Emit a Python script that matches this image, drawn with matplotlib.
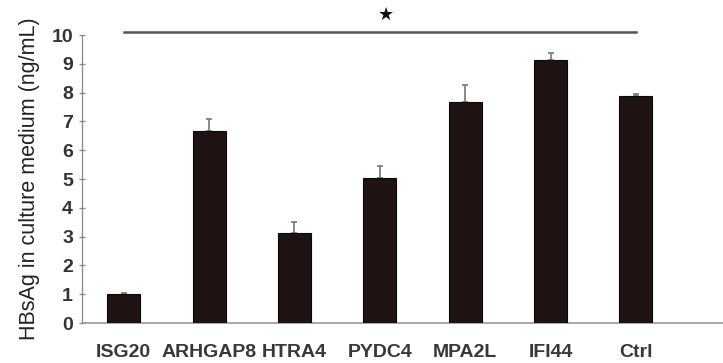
import matplotlib
matplotlib.use("Agg")
import matplotlib.pyplot as plt

# HBsAg levels after over-expression of each gene
genes = ["ISG20", "ARHGAP8", "HTRA4", "PYDC4", "MPA2L", "IFI44", "Ctrl"]
hbsag = [1.02, 6.68, 3.13, 5.02, 7.66, 9.12, 7.88]
err = [0.03, 0.40, 0.38, 0.43, 0.60, 0.27, 0.06]
y_ticks = list(range(0, 11))
sig_level = 10.12

plt.rcParams["font.family"] = ["Liberation Sans", "DejaVu Sans"]

fig = plt.figure(figsize=(7.23, 3.63), dpi=100)
ax = fig.add_axes([0.1134, 0.110, 0.89, 0.7934])

x = list(range(len(genes)))
ax.bar(x, hbsag, width=0.39, color="#1e1212", edgecolor="#0d0808", linewidth=0.8,
       zorder=3)
ax.errorbar(x, hbsag, yerr=[[0] * len(err), err], fmt="none", ecolor="#777777",
            elinewidth=1.2, capsize=2.5, capthick=1.2, zorder=2)

ax.set_xlim(-0.49, 7.05)
ax.set_ylim(0, 10)
ax.set_yticks(y_ticks)
ax.set_xticks(x)
ax.set_xticklabels(genes, fontsize=14, color="#383838")
ax.tick_params(axis="x", length=0, pad=15)
ax.tick_params(axis="y", direction="inout", length=5, width=0.9, color="#888888",
               labelsize=14, labelcolor="#333333", pad=4)
for lab in ax.get_yticklabels() + ax.get_xticklabels():
    lab.set_fontweight("bold")

for side in ("top", "right"):
    ax.spines[side].set_visible(False)
ax.spines["left"].set_color("#888888")
ax.spines["bottom"].set_color("#999999")
ax.spines["left"].set_linewidth(0.9)
ax.spines["bottom"].set_linewidth(1.2)

ax.set_ylabel("HBsAg in culture medium (ng/mL)", fontsize=15.5, color="#222222",
              labelpad=8)

# significance bar across all groups
ax.plot([x[0], x[-1]], [sig_level, sig_level], color="#555555", lw=1.8,
        clip_on=False)
ax.text(3.07, 10.7, "★", fontsize=13, ha="center", va="center",
        family="DejaVu Sans", color="#111111", clip_on=False)

fig.savefig("out.png", dpi=100)
